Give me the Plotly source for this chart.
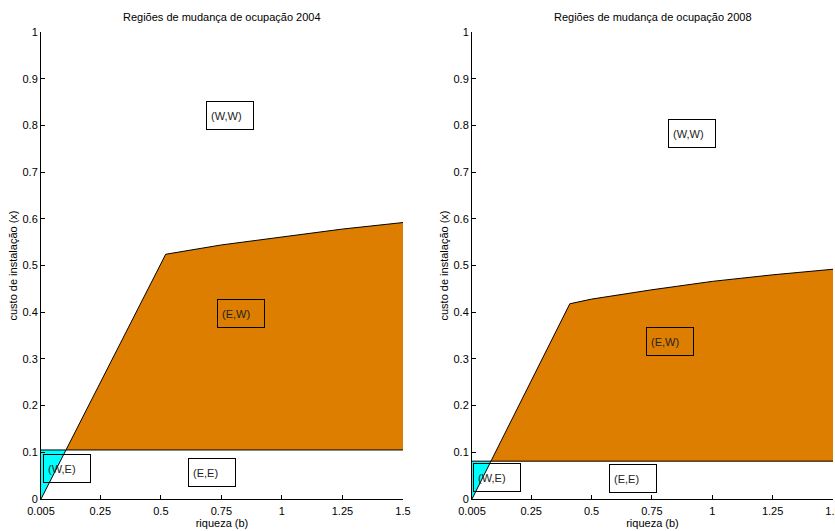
import plotly.graph_objects as go

# ---- data ----
years = ["2004", "2008"]
x_min, x_max = 0.005, 1.5
# threshold (horizontal boundary between E,E and E,W)
threshold = {"2004": 0.105, "2008": 0.081}
# kink of the boundary curve
kink = {"2004": (0.52, 0.524), "2008": (0.41, 0.418)}
# upper boundary curve after the kink
curve_x = {"2004": [0.52, 0.6, 0.75, 1.0, 1.25, 1.5],
           "2008": [0.41, 0.5, 0.75, 1.0, 1.25, 1.5]}
curve_y = {"2004": [0.524, 0.531, 0.544, 0.561, 0.578, 0.592],
           "2008": [0.418, 0.428, 0.448, 0.466, 0.480, 0.492]}
# region labels: (text, x, y)
labels = {"2004": [("(W,W)", 0.787, 0.822), ("(E,W)", 0.829, 0.398),
                   ("(E,E)", 0.713, 0.056), ("(W,E)", 0.112, 0.066)],
          "2008": [("(W,W)", 0.918, 0.782), ("(E,W)", 0.827, 0.338),
                   ("(E,E)", 0.673, 0.043), ("(W,E)", 0.108, 0.047)]}
x_tickvals = [0.005, 0.25, 0.5, 0.75, 1, 1.25, 1.5]
x_ticktext = ["0.005", "0.25", "0.5", "0.75", "1", "1.25", "1.5"]
y_tickvals = [0, 0.1, 0.2, 0.3, 0.4, 0.5, 0.6, 0.7, 0.8, 0.9, 1]
y_ticktext = ["0", "0.1", "0.2", "0.3", "0.4", "0.5", "0.6", "0.7", "0.8", "0.9", "1"]

ORANGE = "#DE7E00"
CYAN = "#00FFFF"
FONT = "Liberation Sans Narrow, Arial Narrow, Liberation Sans, sans-serif"

W, H = 835, 531


def fx(p):
    return p / W


def fy(p):
    return 1 - p / H


x_domains = [[fx(41), fx(403)], [fx(472), fx(833)]]
y_domain = [fy(499), fy(32)]

fig = go.Figure()
annotations = []
for i, yr in enumerate(years):
    xa = "x" if i == 0 else "x2"
    ya = "y" if i == 0 else "y2"
    t = threshold[yr]
    kx, ky = kink[yr]
    slope = ky / (kx - x_min)
    xc = x_min + t / slope  # crossing of diagonal with threshold
    # orange region (E,W)
    ox = [xc, x_max, x_max] + curve_x[yr][::-1] + [xc]
    oy = [t, t, curve_y[yr][-1]] + curve_y[yr][::-1] + [t]
    fig.add_trace(go.Scatter(x=ox, y=oy, fill="toself", fillcolor=ORANGE,
                             mode="none", xaxis=xa, yaxis=ya, showlegend=False,
                             hoverinfo="skip"))
    # cyan region (W,E)
    fig.add_trace(go.Scatter(x=[x_min, x_min, xc, x_min], y=[0, t, t, 0],
                             fill="toself", fillcolor=CYAN, mode="none",
                             xaxis=xa, yaxis=ya, showlegend=False,
                             hoverinfo="skip"))
    # boundary lines
    fig.add_trace(go.Scatter(x=[x_min] + curve_x[yr], y=[0] + curve_y[yr],
                             mode="lines", line=dict(color="black", width=1),
                             xaxis=xa, yaxis=ya, showlegend=False,
                             hoverinfo="skip"))
    fig.add_trace(go.Scatter(x=[x_min, x_max], y=[t, t],
                             mode="lines", line=dict(color="black", width=1),
                             xaxis=xa, yaxis=ya, showlegend=False,
                             hoverinfo="skip"))
    for txt, lx, ly in labels[yr]:
        annotations.append(dict(x=lx, y=ly, xref=xa, yref=ya,
                                text="&nbsp;" + txt,
                                showarrow=False, xanchor="center",
                                yanchor="middle", width=44, height=25,
                                align="left", bordercolor="black",
                                borderwidth=1, borderpad=1,
                                font=dict(size=11, color="#222", family=FONT)))
    # title
    annotations.append(dict(x=sum(x_domains[i]) / 2, y=fy(17),
                            xref="paper", yref="paper",
                            text="Regiões de mudança de ocupação " + yr,
                            showarrow=False, xanchor="center", yanchor="middle",
                            font=dict(size=11, color="black", family=FONT)))

axis_common = dict(showgrid=False, zeroline=False, showline=True,
                   linecolor="black", linewidth=1, ticks="inside", ticklen=4,
                   tickcolor="black", tickfont=dict(size=11, color="black",
                                                    family=FONT),
                   ticklabeloverflow="allow",
                   automargin=False, fixedrange=True)

title_font = dict(size=11, color="black", family=FONT)
fig.update_layout(
    width=W, height=H, margin=dict(l=0, r=0, t=0, b=0),
    paper_bgcolor="white", plot_bgcolor="white",
    showlegend=False, annotations=annotations,
    xaxis=dict(domain=x_domains[0], range=[x_min, x_max], anchor="y",
               tickvals=x_tickvals, ticktext=x_ticktext, ticklabelstandoff=2,
               title=dict(text="riqueza (b)", standoff=3, font=title_font),
               **axis_common),
    yaxis=dict(domain=y_domain, range=[0, 1], anchor="x",
               tickvals=y_tickvals, ticktext=y_ticktext,
               title=dict(text="custo de instalação (x)", standoff=2,
                          font=title_font),
               **axis_common),
    xaxis2=dict(domain=x_domains[1], range=[x_min, x_max], anchor="y2",
                tickvals=x_tickvals, ticktext=x_ticktext, ticklabelstandoff=2,
                title=dict(text="riqueza (b)", standoff=3, font=title_font),
                **axis_common),
    yaxis2=dict(domain=y_domain, range=[0, 1], anchor="x2",
                tickvals=y_tickvals, ticktext=y_ticktext,
                title=dict(text="custo de instalação (x)", standoff=2,
                           font=title_font),
                **axis_common),
)

fig.write_html("out.html", config={"displayModeBar": False},
               post_script="document.body.style.margin='0';"
                           "document.body.style.overflow='hidden';")
